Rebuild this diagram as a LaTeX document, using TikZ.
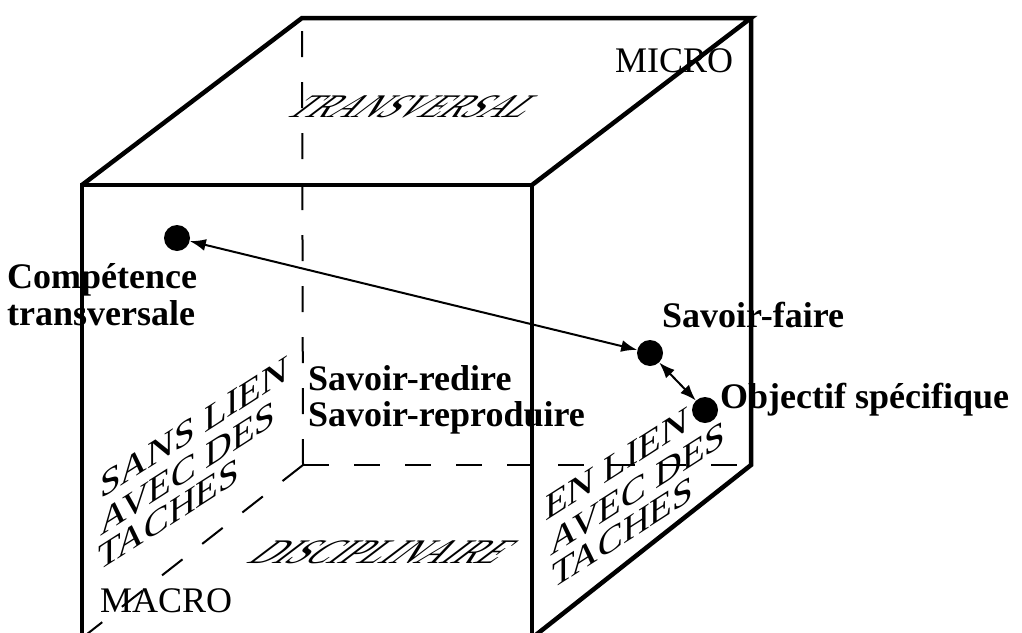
\documentclass[tikz,border=0pt]{standalone}
\usepackage{fontspec}
\setmainfont{Liberation Serif}
\usepackage{pdfrender}
\usetikzlibrary{arrows.meta}
% hollow lettering for the faces of the cube
\newcommand{\hollow}[1]{\textpdfrender{TextRenderingMode=Stroke,LineWidth=0.7}{#1}}
\begin{document}
\begin{tikzpicture}[x=1pt,y=-1pt,
  edge/.style={line width=4.5pt},
  hidden/.style={line width=2pt, dash pattern=on 26pt off 25pt},
  dot/.style={circle,fill=black,minimum size=26pt,inner sep=0pt},
  lbl/.style={font=\fontsize{36}{36}\selectfont\bfseries, inner sep=0pt, anchor=base west},
  tag/.style={font=\fontsize{36}{36}\selectfont, inner sep=0pt, anchor=base west},
  facetext/.style={inner sep=0pt, anchor=base west},
  side/.style={facetext, font=\fontsize{37}{37}\selectfont, yslant=0.64},
  flat/.style={facetext, font=\fontsize{33}{33}\selectfont, xslant=1.32},
  link/.style={line width=2pt,{Latex[length=16pt,width=12pt]}-{Latex[length=16pt,width=12pt]}}
]
\clip (0,0) rectangle (1022,632);

% cube corners
\coordinate (FTL) at (82,185);
\coordinate (FTR) at (532,185);
\coordinate (FBL) at (82,638);
\coordinate (FBR) at (532,638);
\coordinate (BTL) at (302,18);
\coordinate (BTR) at (751,18);
\coordinate (BBL) at (303,465);
\coordinate (BBR) at (751,465);

% hidden edges
\draw[hidden] (BBL) -- (BTL);
\draw[hidden] (BBL) -- (BBR);
\draw[hidden] (BBL) -- (FBL);

% lettering on the faces
\node[flat] (top) at (283,117) {\hollow{TRANSVERSAL}};
\node[flat, font=\fontsize{34.5}{34.5}\selectfont] (bottom) at (245,563) {\hollow{DISCIPLINAIRE}};
\node[side] (l1) at (100,500) {\hollow{SANS LIEN}};
\node[side] (l2) at (100,537) {\hollow{AVEC DES}};
\node[side] (l3) at (98,572) {\hollow{TACHES}};
\node[side] (r1) at (545,522) {\hollow{EN LIEN}};
\node[side] (r2) at (550,557) {\hollow{AVEC DES}};
\node[side] (r3) at (552,590) {\hollow{TACHES}};

\node[tag] (micro) at (615,72) {MICRO};
\node[tag] (macro) at (100,612) {MACRO};

% visible edges
\draw[edge] (FTL) -- (FTR) -- (FBR) -- (FBL) -- cycle;
\draw[edge] (FTL) -- (BTL) -- (BTR) -- (FTR);
\draw[edge] (BTR) -- (BBR) -- (FBR);

% points and links
\node[dot] (comp) at (177,238) {};
\node[dot] (sf) at (650,353) {};
\node[dot] (obj) at (705,410) {};
\draw[link] (comp) -- (sf);
\draw[link] (sf) -- (obj);

\node[lbl] (c1) at (7,288) {Compétence};
\node[lbl] (c2) at (7,325) {transversale};
\node[lbl] (sfl) at (662,327) {Savoir-faire};
\node[lbl] (objl) at (720,408) {Objectif spécifique};
\node[lbl] (sr1) at (308,390) {Savoir-redire};
\node[lbl] (sr2) at (308,426) {Savoir-reproduire};
\end{tikzpicture}
\end{document}
